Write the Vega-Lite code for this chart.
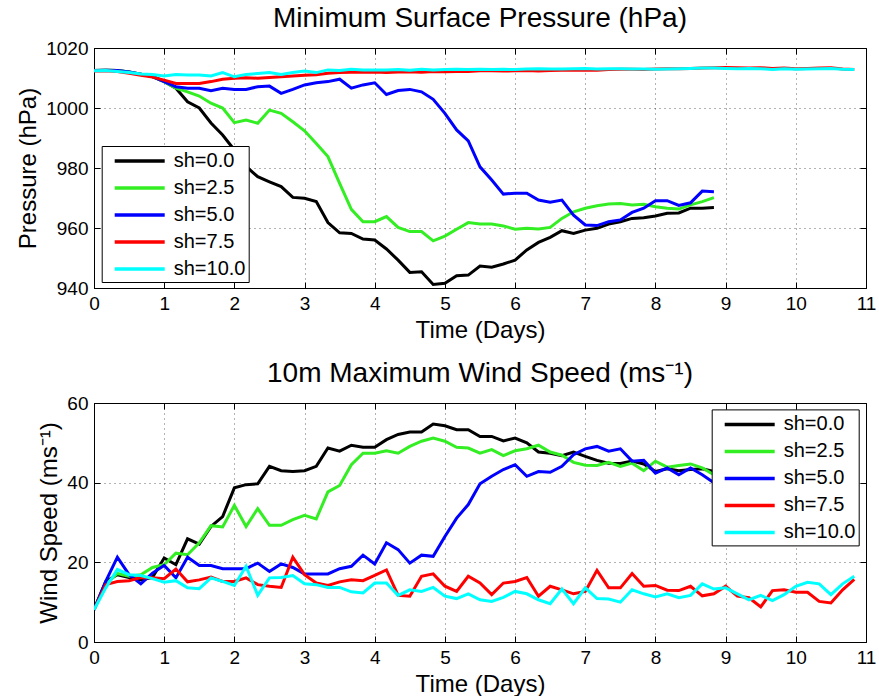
{
  "$schema": "https://vega.github.io/schema/vega-lite/v6.json",
  "padding": {"left": 16, "top": 4, "right": 5, "bottom": 0},
  "background": "white",
  "datasets": {
    "pressure": [
      {"sh": "sh=0.0", "t": [0,0.167,0.333,0.5,0.667,0.833,1,1.167,1.333,1.5,1.667,1.833,2,2.167,2.333,2.5,2.667,2.833,3,3.167,3.333,3.5,3.667,3.833,4,4.167,4.333,4.5,4.667,4.833,5,5.167,5.333,5.5,5.667,5.833,6,6.167,6.333,6.5,6.667,6.833,7,7.167,7.333,7.5,7.667,7.833,8,8.167,8.333,8.5,8.667,8.833],
       "v": [1012.5,1012.6,1012.5,1012,1011.3,1010.5,1008.8,1006.6,1002.1,1000,995,991,986,980.5,977.1,975.4,973.8,970.2,969.9,968.8,961.8,958.4,958.2,956.3,956,953,949.3,945.2,945.4,941.2,941.6,944.1,944.3,947.3,946.9,948,949.3,952.7,955.2,956.9,959.1,958.2,959.3,959.9,961.3,962.1,963.2,963.4,964,964.9,965,966.6,966.6,966.8]},
      {"sh": "sh=2.5", "t": [0,0.167,0.333,0.5,0.667,0.833,1,1.167,1.333,1.5,1.667,1.833,2,2.167,2.333,2.5,2.667,2.833,3,3.167,3.333,3.5,3.667,3.833,4,4.167,4.333,4.5,4.667,4.833,5,5.167,5.333,5.5,5.667,5.833,6,6.167,6.333,6.5,6.667,6.833,7,7.167,7.333,7.5,7.667,7.833,8,8.167,8.333,8.5,8.667,8.833],
       "v": [1012.5,1012.6,1012.5,1012,1011.3,1010.5,1008.8,1006.6,1005.4,1004,1001.6,1000,995.1,996,994.9,999.3,998.2,995.4,992.4,988.2,983.8,974.9,966.2,962.1,962.1,963.8,960.2,958.8,958.8,955.7,957.3,959.6,961.8,961.3,961.3,960.7,959.6,959.9,959.7,960.2,963.2,965.4,966.6,967.4,968,968.2,967.7,967.9,967.1,966.6,966.3,967.7,968.8,970.1]},
      {"sh": "sh=5.0", "t": [0,0.167,0.333,0.5,0.667,0.833,1,1.167,1.333,1.5,1.667,1.833,2,2.167,2.333,2.5,2.667,2.833,3,3.167,3.333,3.5,3.667,3.833,4,4.167,4.333,4.5,4.667,4.833,5,5.167,5.333,5.5,5.667,5.833,6,6.167,6.333,6.5,6.667,6.833,7,7.167,7.333,7.5,7.667,7.833,8,8.167,8.333,8.5,8.667,8.833],
       "v": [1012.5,1012.6,1012.5,1012,1011.3,1010.5,1008.8,1007.1,1006.6,1006.6,1005.8,1006.6,1006.2,1006.2,1007.1,1007.3,1004.9,1006.2,1007.7,1008.4,1008.8,1009.6,1006.6,1007.7,1008.4,1004.5,1005.8,1006.2,1005.4,1002.9,998.2,992.7,989,980.4,976,971.3,971.6,971.6,969.3,968.6,969.3,964.3,961,960.8,962.1,962.7,965.2,966.6,969.1,969.1,967.5,968.4,972.3,972.1]},
      {"sh": "sh=7.5", "t": [0,0.167,0.333,0.5,0.667,0.833,1,1.167,1.333,1.5,1.667,1.833,2,2.167,2.333,2.5,2.667,2.833,3,3.167,3.333,3.5,3.667,3.833,4,4.167,4.333,4.5,4.667,4.833,5,5.167,5.333,5.5,5.667,5.833,6,6.167,6.333,6.5,6.667,6.833,7,7.167,7.333,7.5,7.667,7.833,8,8.167,8.333,8.5,8.667,8.833,9,9.167,9.333,9.5,9.667,9.833,10,10.167,10.333,10.5,10.667,10.833],
       "v": [1012.3,1012.4,1012.2,1011.6,1010.9,1010.3,1009.3,1008.2,1008.2,1008.2,1008.8,1009.6,1009.9,1010.1,1009.9,1010.2,1010.4,1010.7,1010.9,1011.1,1011.6,1011.8,1011.9,1011.9,1012,1011.8,1012,1012.1,1011.9,1012.2,1012.1,1012.2,1012.2,1012.4,1012.4,1012.3,1012.4,1012.5,1012.3,1012.5,1012.6,1012.6,1012.7,1012.6,1012.8,1012.9,1012.9,1012.8,1013,1013.1,1013.1,1013.2,1013.3,1013.4,1013.5,1013.4,1013.3,1013.4,1013.2,1013.3,1013.1,1013.2,1013.3,1013.4,1013,1012.8]},
      {"sh": "sh=10.0", "t": [0,0.167,0.333,0.5,0.667,0.833,1,1.167,1.333,1.5,1.667,1.833,2,2.167,2.333,2.5,2.667,2.833,3,3.167,3.333,3.5,3.667,3.833,4,4.167,4.333,4.5,4.667,4.833,5,5.167,5.333,5.5,5.667,5.833,6,6.167,6.333,6.5,6.667,6.833,7,7.167,7.333,7.5,7.667,7.833,8,8.167,8.333,8.5,8.667,8.833,9,9.167,9.333,9.5,9.667,9.833,10,10.167,10.333,10.5,10.667,10.833],
       "v": [1012.4,1012.5,1012.2,1011.8,1011.3,1011.2,1010.7,1011.2,1011,1011,1010.7,1011.8,1010.4,1011.2,1011.5,1011.8,1011.2,1011.8,1012.3,1011.8,1012.7,1012.5,1012.9,1012.7,1012.7,1012.7,1012.8,1012.6,1012.9,1012.7,1012.8,1012.9,1012.8,1012.9,1012.8,1012.9,1012.8,1013,1013.1,1013,1013,1013.1,1013.2,1013,1013.1,1013.1,1013,1013,1012.9,1013,1013.1,1013.2,1013.3,1013.3,1013.2,1013.1,1013.2,1013.1,1012.8,1013.1,1012.9,1013,1013.1,1013.2,1012.9,1012.8]}
    ],
    "wind": [
      {"sh": "sh=0.0", "t": [0,0.167,0.333,0.5,0.667,0.833,1,1.167,1.333,1.5,1.667,1.833,2,2.167,2.333,2.5,2.667,2.833,3,3.167,3.333,3.5,3.667,3.833,4,4.167,4.333,4.5,4.667,4.833,5,5.167,5.333,5.5,5.667,5.833,6,6.167,6.333,6.5,6.667,6.833,7,7.167,7.333,7.5,7.667,7.833,8,8.167,8.333,8.5,8.667,8.833],
       "v": [8.1,15.2,16.9,16.2,15.6,16.2,21.1,19.4,25.9,24.6,29,31.5,38.7,39.5,39.7,44.1,43,42.8,43,44.1,48.7,47.9,49.4,48.9,48.9,50.8,52.1,52.7,52.7,54.7,54.3,53.3,53.3,51.6,51.6,50.5,51.2,50,47.7,47.4,46.8,47.7,46.6,45.6,44.9,44.8,45.4,44.7,42.8,43.5,43,43.3,43.5,42.8]},
      {"sh": "sh=2.5", "t": [0,0.167,0.333,0.5,0.667,0.833,1,1.167,1.333,1.5,1.667,1.833,2,2.167,2.333,2.5,2.667,2.833,3,3.167,3.333,3.5,3.667,3.833,4,4.167,4.333,4.5,4.667,4.833,5,5.167,5.333,5.5,5.667,5.833,6,6.167,6.333,6.5,6.667,6.833,7,7.167,7.333,7.5,7.667,7.833,8,8.167,8.333,8.5,8.667,8.833],
       "v": [8.1,14.4,17.2,16.5,16.9,18.7,19.4,22.3,21.9,24.9,29.2,28.9,34.3,29,33.5,29.3,29.3,30.7,31.8,30.9,37.7,39.3,44.5,47.4,47.4,48,47.4,49.1,50.4,51.2,50.4,48.9,48.7,47.4,48.3,46.8,48,48.5,49.4,47.7,46.9,45.1,44.4,44.3,45.1,44.1,44.9,43,45.4,43.9,44.3,44.7,43.7,42]},
      {"sh": "sh=5.0", "t": [0,0.167,0.333,0.5,0.667,0.833,1,1.167,1.333,1.5,1.667,1.833,2,2.167,2.333,2.5,2.667,2.833,3,3.167,3.333,3.5,3.667,3.833,4,4.167,4.333,4.5,4.667,4.833,5,5.167,5.333,5.5,5.667,5.833,6,6.167,6.333,6.5,6.667,6.833,7,7.167,7.333,7.5,7.667,7.833,8,8.167,8.333,8.5,8.667,8.833],
       "v": [8.1,15.2,21.3,16.9,14.6,17.3,19.2,16.1,21.3,19.2,19.2,18.4,18.4,18.4,19.8,17.7,19.6,18.7,17.1,17.1,17.1,18.4,19,21.8,19.6,24.9,23.2,19.8,21.8,21.5,26.5,31.1,34.5,39.7,41.6,43.3,44.5,41.6,42.8,42.6,44.1,47,48.5,49.1,47.9,48.5,45.4,45.6,42.4,43.7,42,43.7,42,40]},
      {"sh": "sh=7.5", "t": [0,0.167,0.333,0.5,0.667,0.833,1,1.167,1.333,1.5,1.667,1.833,2,2.167,2.333,2.5,2.667,2.833,3,3.167,3.333,3.5,3.667,3.833,4,4.167,4.333,4.5,4.667,4.833,5,5.167,5.333,5.5,5.667,5.833,6,6.167,6.333,6.5,6.667,6.833,7,7.167,7.333,7.5,7.667,7.833,8,8.167,8.333,8.5,8.667,8.833,9,9.167,9.333,9.5,9.667,9.833,10,10.167,10.333,10.5,10.667,10.833],
       "v": [8.1,14.4,15.2,15.4,16.2,16.1,15.9,18.3,15.1,15.6,16.3,15.2,15.2,16.1,14.4,14,13.7,21.3,16.9,14.8,14.2,15.1,15.6,15.4,16.7,18.1,11.7,11.5,16.5,17.1,14,12.7,16.5,14.8,11.9,14.8,15.2,16.2,11.5,14,13.1,12.1,12.7,18,13.6,13.6,17.2,14,14.2,13,12.9,14,11.6,12.1,14,11.5,11.1,8.8,12.9,13.1,12.5,12.5,10.2,9.8,13.1,15.7]},
      {"sh": "sh=10.0", "t": [0,0.167,0.333,0.5,0.667,0.833,1,1.167,1.333,1.5,1.667,1.833,2,2.167,2.333,2.5,2.667,2.833,3,3.167,3.333,3.5,3.667,3.833,4,4.167,4.333,4.5,4.667,4.833,5,5.167,5.333,5.5,5.667,5.833,6,6.167,6.333,6.5,6.667,6.833,7,7.167,7.333,7.5,7.667,7.833,8,8.167,8.333,8.5,8.667,8.833,9,9.167,9.333,9.5,9.667,9.833,10,10.167,10.333,10.5,10.667,10.833],
       "v": [8.1,13.6,18.2,16.9,16.7,15.9,15,15.4,13.6,13.4,16.1,15.2,14.2,19,11.7,16.1,16.2,16.7,14.6,14.4,13.7,13.7,12.6,12.3,14.8,14.8,11.7,13.1,12.7,13.7,11.5,10.9,12.1,10.6,10.2,11.2,12.7,12.1,10.6,9.6,13.3,9.6,13.6,10.9,10.8,10,13.1,12.1,11.3,12.1,11.1,11.7,14.6,13.3,13.6,12.1,10.6,11.7,10.4,11.9,14,15,14.6,11.9,14.6,16.5]}
    ]
  },
  "config": {
    "font": "Liberation Sans",
    "view": {"stroke": "black", "strokeWidth": 1},
    "title": {"fontSize": 28, "fontWeight": "normal", "color": "black", "offset": 6},
    "axis": {
      "labelFontSize": 19, "titleFontSize": 24, "titleFontWeight": "normal",
      "labelColor": "black", "titleColor": "black", "domainColor": "black", "tickColor": "black",
      "tickSize": -6, "labelPadding": 12, "titlePadding": 5,
      "gridColor": "black", "gridDash": [1, 4], "gridOpacity": 0.6,
      "labelFlush": false, "labelOverlap": false
    },
    "legend": {
      "strokeColor": "black", "fillColor": "white", "padding": 3, "cornerRadius": 0,
      "labelFontSize": 20, "labelColor": "black", "symbolType": "M-0.2,0H4.8", "symbolSize": 400,
      "symbolStrokeWidth": 3.5, "labelOffset": 45, "rowPadding": 5, "labelLimit": 300
    }
  },
  "bounds": "flush",
  "spacing": 115,
  "resolve": {"legend": {"color": "independent"}},
  "vconcat": [
    {
      "title": "Minimum Surface Pressure (hPa)",
      "width": 772, "height": 240,
      "data": {"name": "pressure"},
      "transform": [{"flatten": ["t", "v"]}],
      "resolve": {"axis": {"x": "independent", "y": "independent"}},
      "layer": [
        {
          "mark": {"type": "line", "strokeWidth": 3, "clip": true},
          "encoding": {
            "x": {"field": "t", "type": "quantitative", "scale": {"domain": [0, 11], "nice": false},
                  "axis": {"values": [0,1,2,3,4,5,6,7,8,9,10,11], "title": "Time (Days)", "orient": "bottom"}},
            "y": {"field": "v", "type": "quantitative", "scale": {"domain": [940, 1020], "nice": false, "zero": false},
                  "axis": {"values": [940, 960, 980, 1000, 1020], "format": "d", "title": "Pressure (hPa)", "orient": "left"}},
            "color": {"field": "sh", "type": "nominal",
                      "scale": {"domain": ["sh=0.0", "sh=2.5", "sh=5.0", "sh=7.5", "sh=10.0"], "range": ["#000000", "#33ee22", "#0000ff", "#ff0000", "#00ffff"]},
                      "legend": {"title": null, "orient": "none", "legendX": 7.7, "legendY": 98}}
          }
        },
        {
          "mark": {"type": "line", "opacity": 0},
          "encoding": {
            "x": {"field": "t", "type": "quantitative", "scale": {"domain": [0, 11], "nice": false},
                  "axis": {"values": [0,1,2,3,4,5,6,7,8,9,10,11], "title": null, "orient": "top", "labels": false, "grid": false, "domain": false}},
            "y": {"field": "v", "type": "quantitative", "scale": {"domain": [940, 1020], "nice": false, "zero": false},
                  "axis": {"values": [940, 960, 980, 1000, 1020], "title": null, "orient": "right", "labels": false, "grid": false, "domain": false}},
            "detail": {"field": "sh"}
          }
        }
      ]
    },
    {
      "title": "10m Maximum Wind Speed (ms⁻¹)",
      "width": 772, "height": 239,
      "data": {"name": "wind"},
      "transform": [{"flatten": ["t", "v"]}],
      "resolve": {"axis": {"x": "independent", "y": "independent"}},
      "layer": [
        {
          "mark": {"type": "line", "strokeWidth": 3, "clip": true},
          "encoding": {
            "x": {"field": "t", "type": "quantitative", "scale": {"domain": [0, 11], "nice": false},
                  "axis": {"values": [0,1,2,3,4,5,6,7,8,9,10,11], "title": "Time (Days)", "orient": "bottom"}},
            "y": {"field": "v", "type": "quantitative", "scale": {"domain": [0, 60], "nice": false},
                  "axis": {"values": [0, 20, 40, 60], "title": "Wind Speed (ms⁻¹)", "orient": "left"}},
            "color": {"field": "sh", "type": "nominal",
                      "scale": {"domain": ["sh=0.0", "sh=2.5", "sh=5.0", "sh=7.5", "sh=10.0"], "range": ["#000000", "#33ee22", "#0000ff", "#ff0000", "#00ffff"]},
                      "legend": {"title": null, "orient": "none", "legendX": 617.7, "legendY": 6.4}}
          }
        },
        {
          "mark": {"type": "line", "opacity": 0},
          "encoding": {
            "x": {"field": "t", "type": "quantitative", "scale": {"domain": [0, 11], "nice": false},
                  "axis": {"values": [0,1,2,3,4,5,6,7,8,9,10,11], "title": null, "orient": "top", "labels": false, "grid": false, "domain": false}},
            "y": {"field": "v", "type": "quantitative", "scale": {"domain": [0, 60], "nice": false},
                  "axis": {"values": [0, 20, 40, 60], "title": null, "orient": "right", "labels": false, "grid": false, "domain": false}},
            "detail": {"field": "sh"}
          }
        }
      ]
    }
  ]
}
